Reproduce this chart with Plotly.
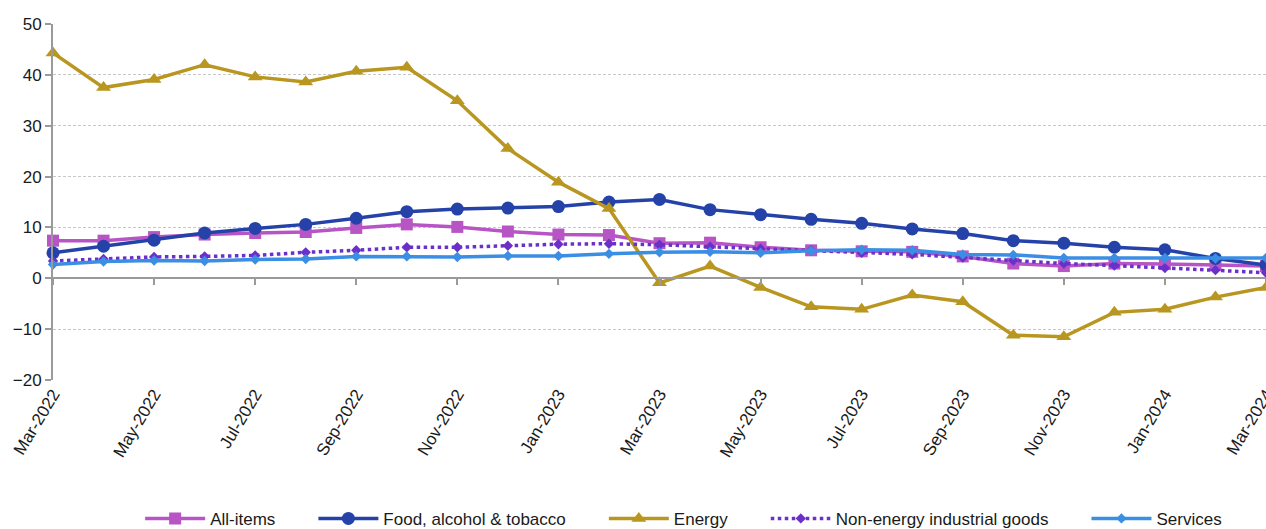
import plotly.graph_objects as go

months = ["Mar-2022", "Apr-2022", "May-2022", "Jun-2022", "Jul-2022", "Aug-2022",
          "Sep-2022", "Oct-2022", "Nov-2022", "Dec-2022", "Jan-2023", "Feb-2023",
          "Mar-2023", "Apr-2023", "May-2023", "Jun-2023", "Jul-2023", "Aug-2023",
          "Sep-2023", "Oct-2023", "Nov-2023", "Dec-2023", "Jan-2024", "Feb-2024",
          "Mar-2024"]

all_items = [7.4, 7.4, 8.1, 8.6, 8.9, 9.1, 9.9, 10.6, 10.1, 9.2, 8.6, 8.5,
             6.9, 7.0, 6.1, 5.5, 5.3, 5.2, 4.3, 2.9, 2.4, 2.9, 2.8, 2.6, 2.4]
food = [5.0, 6.3, 7.5, 8.9, 9.8, 10.6, 11.8, 13.1, 13.6, 13.8, 14.1, 15.0,
        15.5, 13.5, 12.5, 11.6, 10.8, 9.7, 8.8, 7.4, 6.9, 6.1, 5.6, 3.9, 2.6]
energy = [44.3, 37.5, 39.1, 42.0, 39.6, 38.6, 40.7, 41.5, 34.9, 25.5, 18.9, 13.7,
          -0.9, 2.4, -1.8, -5.6, -6.1, -3.3, -4.6, -11.2, -11.5, -6.7, -6.1, -3.7, -1.8]
neig = [3.4, 3.8, 4.2, 4.3, 4.5, 5.1, 5.5, 6.1, 6.1, 6.4, 6.7, 6.8,
        6.6, 6.2, 5.8, 5.5, 5.0, 4.7, 4.1, 3.5, 2.9, 2.5, 2.0, 1.6, 1.1]
services = [2.7, 3.3, 3.5, 3.4, 3.7, 3.8, 4.3, 4.3, 4.2, 4.4, 4.4, 4.8,
            5.1, 5.2, 5.0, 5.4, 5.6, 5.5, 4.7, 4.6, 4.0, 4.0, 4.0, 3.9, 4.0]

tick_labels = months[::2]

series = [
    ("All-items", all_items, "#B855C5", "square", 12, "solid"),
    ("Food, alcohol & tobacco", food, "#2442A8", "circle", 13, "solid"),
    ("Energy", energy, "#B8961F", "triangle-up", 13, "solid"),
    ("Non-energy industrial goods", neig, "#6A30C9", "diamond", 8, "dot"),
    ("Services", services, "#3A8EE4", "diamond", 8, "solid"),
]

PAD = "\u00a0" * 7  # extra spacing after legend labels

fig = go.Figure()
for i, (name, vals, color, sym, size, dash) in enumerate(series):
    fig.add_trace(go.Scatter(
        x=months, y=vals, name=name + (PAD if i < len(series) - 1 else ""),
        mode="lines+markers",
        line=dict(color=color, width=3.5, dash=dash),
        marker=dict(symbol=sym, size=size, color=color),
        cliponaxis=False,
    ))

# invisible trace to activate the overlay axis at y = 0
fig.add_trace(go.Scatter(x=months, y=[None] * len(months), xaxis="x2",
                         showlegend=False, hoverinfo="skip"))

ymin, ymax = -20, 50

fig.update_layout(
    width=1266, height=529,
    margin=dict(l=53, r=0, t=24, b=149, autoexpand=False),
    paper_bgcolor="white", plot_bgcolor="white",
    font=dict(family="Liberation Sans, Arial, sans-serif", size=17, color="#1a1a1a"),
    showlegend=True,
    legend=dict(orientation="h", xref="container", yref="paper",
                x=0.54, xanchor="center", y=-0.39, yanchor="middle",
                font=dict(size=17), itemwidth=60, tracegroupgap=0),
    xaxis=dict(type="category", range=[0, len(months) - 1], automargin=False,
               tickmode="array", tickvals=tick_labels, ticktext=tick_labels,
               tickangle=-59, showgrid=False, showline=False, ticks="",
               zeroline=False, tickfont=dict(size=17)),
    xaxis2=dict(type="category", range=[0, len(months) - 1], overlaying="x",
                anchor="free", position=(0 - ymin) / (ymax - ymin),
                showline=True, linecolor="#9a9a9a", linewidth=2,
                ticks="outside", ticklen=6, tickwidth=1.5, tickcolor="#9a9a9a",
                tickmode="array", tickvals=tick_labels, showticklabels=False,
                showgrid=False, zeroline=False, automargin=False),
    yaxis=dict(range=[ymin, ymax], dtick=10, showgrid=True, automargin=False,
               gridcolor="#c8c8c8", griddash="3px,2px", gridwidth=1,
               showline=True, linecolor="#9a9a9a", linewidth=2,
               ticks="outside", ticklen=6, tickcolor="#9a9a9a", tickwidth=1.5,
               zeroline=False, tickfont=dict(size=17)),
)

fig.write_html("out.html", config={"displayModeBar": False},
               post_script="document.body.style.margin='0';document.body.style.overflow='hidden';")
